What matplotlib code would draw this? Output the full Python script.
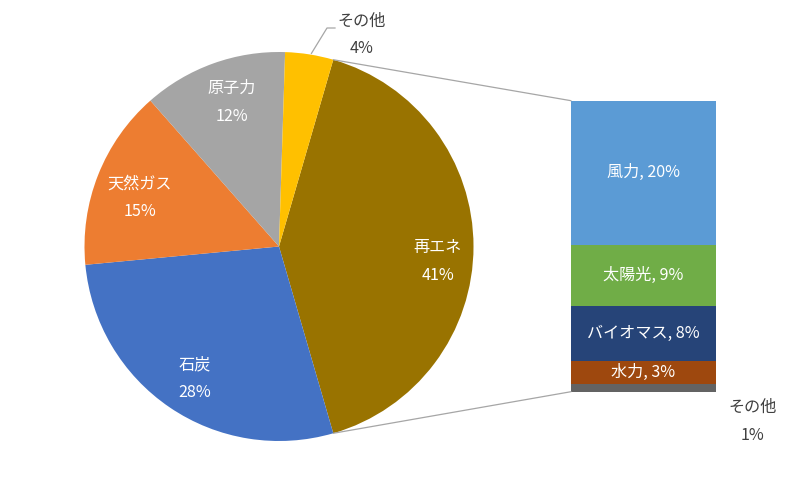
import matplotlib
matplotlib.use('Agg')
import matplotlib.pyplot as plt
import numpy as np
from matplotlib.patches import ConnectionPatch

plt.rcParams['font.family'] = ['Noto Sans CJK JP', 'DejaVu Sans']

# ---- data ----
pie_labels = ['再エネ', '石炭', '天然ガス', '原子力', 'その他']
pie_values = [41, 28, 15, 12, 4]
pie_colors = ['#997300', '#4472C4', '#ED7D31', '#A5A5A5', '#FFC000']

bar_labels = ['風力', '太陽光', 'バイオマス', '水力', 'その他']
bar_values = [20.3, 8.6, 7.8, 3.2, 1.1]
bar_pct = [20, 9, 8, 3, 1]
bar_colors = ['#5B9BD5', '#70AD47', '#264478', '#9E480E', '#636363']

# ---- layout (pixel positions of the label pairs, measured from top-left) ----
W, H = 800, 494
pie_label_pos = [(438, 261.5), (195, 378.5), (140, 198), (232, 102.5), (362, 35)]
bar_other_label_pos = (753, 421)

fig = plt.figure(figsize=(8, 4.94), dpi=100)
ax1 = fig.add_axes([0, 0, 1, 1])

cx, cy, R = 279, H - 246.5, 194.5
wedges, _ = ax1.pie(pie_values, colors=pie_colors,
                    startangle=pie_values[0] * 3.6 / 2, counterclock=False,
                    center=(cx, cy), radius=R, frame=True,
                    wedgeprops=dict(linewidth=0))
ax1.set_xlim(0, W)
ax1.set_ylim(0, H)
ax1.axis('off')

FS = 11.6
HALF = 14


def pair(x, ytop, name, pct, color):
    y = H - ytop
    ax1.text(x, y + HALF, name, ha='center', va='center', fontsize=FS, color=color)
    ax1.text(x, y - HALF, pct, ha='center', va='center', fontsize=FS, color=color)


for i, w in enumerate(wedges):
    x, y = pie_label_pos[i]
    if pie_labels[i] == 'その他':
        mid = np.deg2rad((w.theta1 + w.theta2) / 2)
        ex, ey = cx + R * np.cos(mid), cy + R * np.sin(mid)
        ax1.plot([ex + 2, 327, 335], [ey + 1, H - 28, H - 28], color='#A6A6A6', lw=0.9)
        pair(x, y, pie_labels[i], f'{pie_values[i]}%', '#404040')
    else:
        pair(x, y, pie_labels[i], f'{pie_values[i]}%', 'white')

# ---- bar ----
bar_bottom_px = H - 391.7
bar_top_px = H - 100.7
ax2 = fig.add_axes([571 / W, bar_bottom_px / H, 145 / W, (bar_top_px - bar_bottom_px) / H])
total = sum(bar_values)
bottom = 0
segs = []
for lab, v, p, c in reversed(list(zip(bar_labels, bar_values, bar_pct, bar_colors))):
    ax2.bar(0, v, width=1, bottom=bottom, color=c, linewidth=0)
    segs.append((lab, v, p, bottom))
    bottom += v
ax2.set_xlim(-0.5, 0.5)
ax2.set_ylim(0, total)
ax2.axis('off')

for lab, v, p, b in segs:
    if lab == 'その他' and v < 2:
        pair(bar_other_label_pos[0], bar_other_label_pos[1], lab, f'{p}%', '#404040')
    else:
        ax2.text(0, b + v / 2, f'{lab}, {p}%', ha='center', va='center', fontsize=FS, color='white')

# ---- connector lines ----
w0 = wedges[0]
for ang, yb in [(w0.theta2, total), (w0.theta1, 0)]:
    a = np.deg2rad(ang)
    con = ConnectionPatch(xyA=(cx + R * np.cos(a), cy + R * np.sin(a)), coordsA=ax1.transData,
                          xyB=(-0.5, yb), coordsB=ax2.transData,
                          color='#A6A6A6', lw=0.9)
    fig.add_artist(con)

fig.savefig('out.png', dpi=100, facecolor='white')
